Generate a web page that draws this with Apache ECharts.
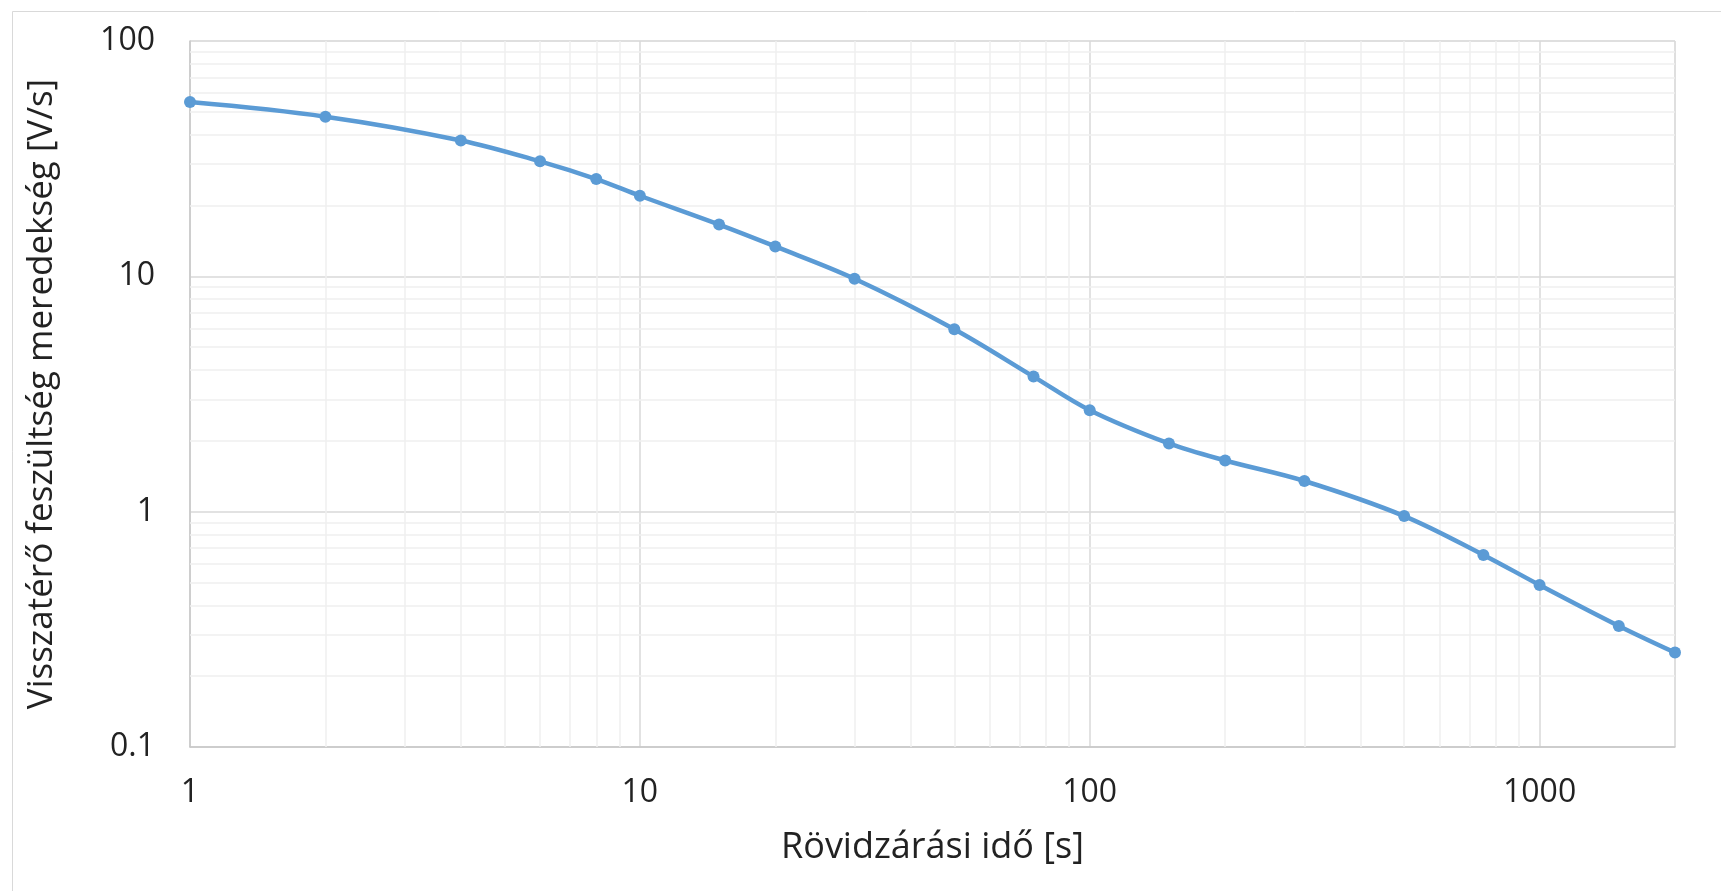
<!DOCTYPE html>
<html>
<head>
<meta charset="utf-8">
<script src="https://cdn.jsdelivr.net/npm/echarts@6/dist/echarts.min.js"></script>
<style>html,body{margin:0;padding:0;background:#fff;}#c{width:1721px;height:891px;}</style>
</head>
<body>
<div id="c"></div>
<script>
// Short-circuit time [s]
const shortCircuitTime = [1, 2, 4, 6, 8, 10, 15, 20, 30, 50, 75, 100, 150, 200, 300, 500, 750, 1000, 1500, 2000];
// Recovery voltage slope [V/s]
const voltageSlope = [55, 47.7, 37.8, 30.8, 25.9, 22.0, 16.6, 13.4, 9.77, 5.96, 3.75, 2.70, 1.95, 1.65, 1.35, 0.958, 0.655, 0.488, 0.327, 0.252];
// Minor grid values (scale values)
const xMinorGrid = [2,3,4,5,6,7,8,9,20,30,40,50,60,70,80,90,200,300,400,500,600,700,800,900];
const yMinorGrid = [0.2,0.3,0.4,0.5,0.6,0.7,0.8,0.9,2,3,4,5,6,7,8,9,20,30,40,50,60,70,80,90];
const xTitle = 'Rövidzárási idő [s]';
const yTitle = 'Visszatérő feszültség meredekség [V/s]';

const FONT = 'Open Sans';
const chart = echarts.init(document.getElementById('c'), null, {renderer: 'canvas'});
chart.setOption({
  animation: false,
  backgroundColor: '#ffffff',
  graphic: [{
    type: 'rect', left: 10, top: 9, shape: {x: 0, y: 0, width: 1800, height: 1000},
    style: {fill: 'none', stroke: '#d9d9d9', lineWidth: 1}, z: -10, silent: true
  }],
  grid: {left: 190, top: 41, right: 46, bottom: 144, show: true, borderColor: '#e6e6e6', borderWidth: 1},
  xAxis: {
    type: 'log', logBase: 10, min: 1, max: 2000,
    name: xTitle, nameLocation: 'middle', nameGap: 83,
    nameTextStyle: {fontFamily: FONT, fontSize: 36, color: '#222'},
    axisLine: {show: true, lineStyle: {color: '#c8c8c8', width: 1.5}},
    axisTick: {show: false},
    axisLabel: {fontFamily: FONT, fontSize: 32, color: '#222', margin: 30,
      showMaxLabel: false, formatter: v => String(v)},
    splitLine: {show: true, lineStyle: {color: '#d9d9d9', width: 1.5}}
  },
  yAxis: {
    type: 'log', logBase: 10, min: 0.1, max: 100,
    name: yTitle, nameLocation: 'middle', nameGap: 130, nameRotate: 90,
    nameTextStyle: {fontFamily: FONT, fontSize: 35, color: '#222'},
    axisLine: {show: true, lineStyle: {color: '#c8c8c8', width: 1.5}},
    axisTick: {show: false},
    axisLabel: {fontFamily: FONT, fontSize: 32, color: '#222', margin: 35, formatter: v => String(v)},
    splitLine: {show: true, lineStyle: {color: '#d9d9d9', width: 1.5}}
  },
  series: [{
    type: 'line', data: [], z: 1, silent: true,
    markLine: {
      silent: true, z: 1, symbol: ['none', 'none'], label: {show: false},
      lineStyle: {color: '#efefef', type: 'solid', width: 1.5},
      data: xMinorGrid.map(v => ({xAxis: v})).concat(yMinorGrid.map(v => ({yAxis: v})))
    }
  }, {
    type: 'line', z: 10,
    data: shortCircuitTime.map((t, i) => [t, voltageSlope[i]]),
    smooth: 0.35,
    symbol: 'circle', symbolSize: 12,
    showAllSymbol: true,
    lineStyle: {color: '#5b9bd5', width: 4.5},
    emphasis: {disabled: true},
    itemStyle: {color: '#5b9bd5', borderWidth: 0}
  }]
});
</script>
</body>
</html>
